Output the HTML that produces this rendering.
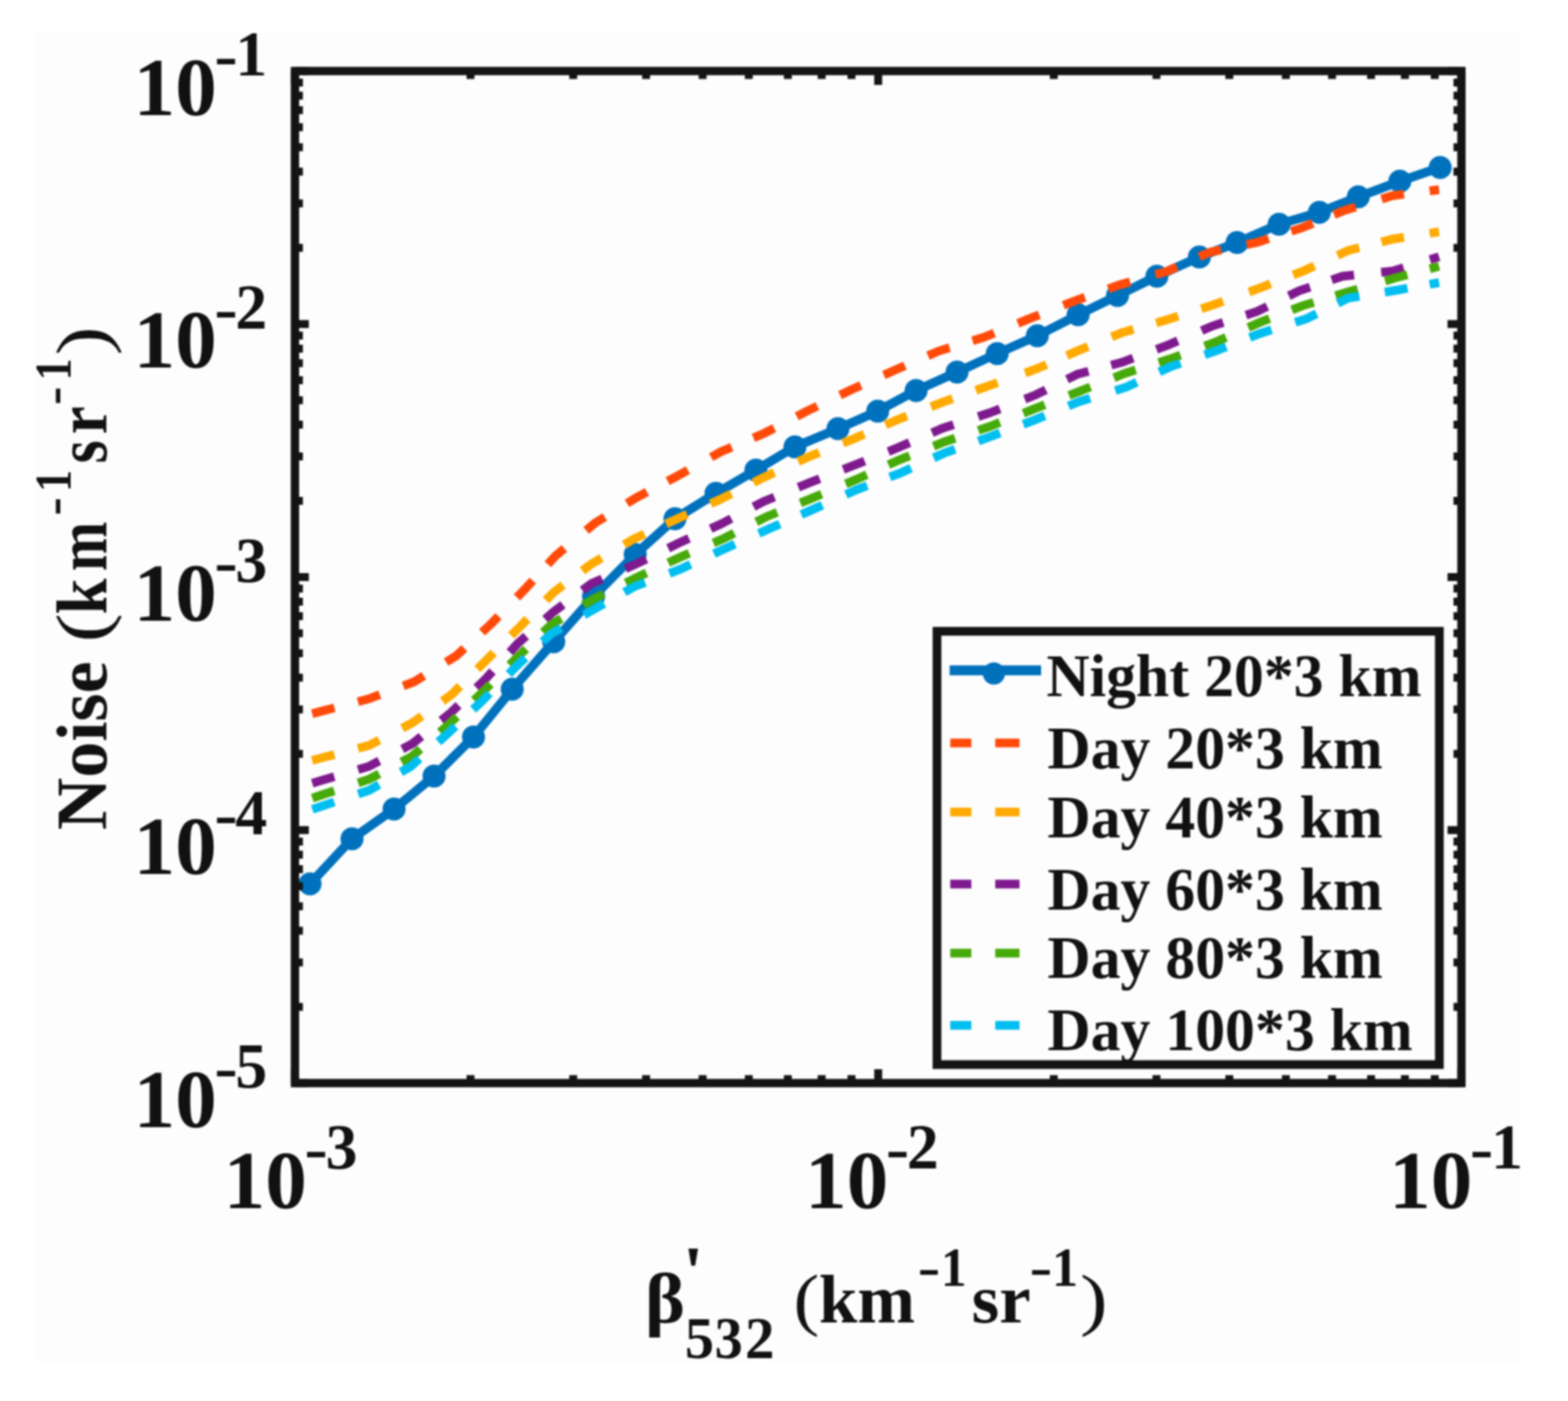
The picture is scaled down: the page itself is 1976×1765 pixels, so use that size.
<!DOCTYPE html>
<html><head><meta charset="utf-8"><title>Noise vs beta</title>
<style>html,body{margin:0;padding:0;background:#fff;overflow:hidden}svg{display:block;filter:blur(1px)}</style>
</head><body>
<svg width="1976" height="1765" viewBox="0 0 1976 1765"><rect x="0" y="0" width="1976" height="1765" fill="#ffffff"/>
<rect x="43" y="41" width="1874" height="1676" fill="#fdfdfd"/>
<g>
<path d="M390.7,1113.5 L443.6,1056.7 L496.6,1019.3 L547.0,977.8 L596.7,928.4 L645.5,868.3 L697.8,808.6 L748.0,751.5 L800.5,698.4 L850.6,653.5 L902.3,621.5 L952.6,592.2 L1001.8,562.9 L1056.0,540.1 L1106.1,517.9 L1154.5,491.9 L1206.1,468.7 L1256.7,445.4 L1307.2,423.0 L1358.7,396.6 L1408.3,372.3 L1457.9,348.0 L1511.5,323.7 L1559.0,305.6 L1611.9,282.6 L1662.7,267.4 L1711.7,248.1 L1764.1,228.3 L1814.9,210.9" fill="none" stroke="#0072BD" stroke-width="11.5" stroke-linejoin="round"/>
<circle cx="390.7" cy="1113.5" r="14.5" fill="#0072BD"/>
<circle cx="443.6" cy="1056.7" r="14.5" fill="#0072BD"/>
<circle cx="496.6" cy="1019.3" r="14.5" fill="#0072BD"/>
<circle cx="547.0" cy="977.8" r="14.5" fill="#0072BD"/>
<circle cx="596.7" cy="928.4" r="14.5" fill="#0072BD"/>
<circle cx="645.5" cy="868.3" r="14.5" fill="#0072BD"/>
<circle cx="697.8" cy="808.6" r="14.5" fill="#0072BD"/>
<circle cx="748.0" cy="751.5" r="14.5" fill="#0072BD"/>
<circle cx="800.5" cy="698.4" r="14.5" fill="#0072BD"/>
<circle cx="850.6" cy="653.5" r="14.5" fill="#0072BD"/>
<circle cx="902.3" cy="621.5" r="14.5" fill="#0072BD"/>
<circle cx="952.6" cy="592.2" r="14.5" fill="#0072BD"/>
<circle cx="1001.8" cy="562.9" r="14.5" fill="#0072BD"/>
<circle cx="1056.0" cy="540.1" r="14.5" fill="#0072BD"/>
<circle cx="1106.1" cy="517.9" r="14.5" fill="#0072BD"/>
<circle cx="1154.5" cy="491.9" r="14.5" fill="#0072BD"/>
<circle cx="1206.1" cy="468.7" r="14.5" fill="#0072BD"/>
<circle cx="1256.7" cy="445.4" r="14.5" fill="#0072BD"/>
<circle cx="1307.2" cy="423.0" r="14.5" fill="#0072BD"/>
<circle cx="1358.7" cy="396.6" r="14.5" fill="#0072BD"/>
<circle cx="1408.3" cy="372.3" r="14.5" fill="#0072BD"/>
<circle cx="1457.9" cy="348.0" r="14.5" fill="#0072BD"/>
<circle cx="1511.5" cy="323.7" r="14.5" fill="#0072BD"/>
<circle cx="1559.0" cy="305.6" r="14.5" fill="#0072BD"/>
<circle cx="1611.9" cy="282.6" r="14.5" fill="#0072BD"/>
<circle cx="1662.7" cy="267.4" r="14.5" fill="#0072BD"/>
<circle cx="1711.7" cy="248.1" r="14.5" fill="#0072BD"/>
<circle cx="1764.1" cy="228.3" r="14.5" fill="#0072BD"/>
<circle cx="1814.9" cy="210.9" r="14.5" fill="#0072BD"/>
<path d="M391.0,899.7 L407.4,895.4 L465.1,880.3 L521.8,859.0 L574.5,826.5 L618.1,786.7 L661.6,742.2 L700.1,700.2 L749.8,658.9 L802.5,626.6 L854.2,599.3 L908.8,569.0 L962.8,546.0 L1017.0,517.9 L1071.7,491.5 L1127.1,466.6 L1182.8,442.3 L1239.5,425.1 L1296.2,401.9 L1353.6,379.4 L1410.3,359.1 L1470.0,342.0 L1524.7,317.7 L1585.1,305.1 L1641.1,286.9 L1694.6,264.9 L1755.0,246.5 L1813.5,239.0" fill="none" stroke="#FF4A0A" stroke-width="11" stroke-dasharray="0.00 2.45 29.00 30.64 29.00 31.57 29.00 32.92 29.00 30.03 29.00 33.23 29.00 27.98 29.00 35.62 29.00 32.81 29.00 29.47 29.00 33.44 29.00 29.69 29.00 32.05 29.00 31.74 29.00 31.74 29.00 31.77 29.00 30.25 29.00 32.26 29.00 32.65 29.00 31.22 29.00 33.10 29.00 30.85 29.00 32.70 29.00 29.88 29.00 28.85 29.00 34.14 29.00 32.48 40.00" stroke-linejoin="miter"/>
<path d="M391.0,958.6 L407.4,954.3 L465.1,939.1 L519.8,910.6 L569.4,874.7 L611.9,832.6 L654.5,790.3 L698.1,745.8 L745.6,710.3 L799.0,678.8 L852.6,653.9 L908.8,628.6 L962.5,601.4 L1019.0,575.5 L1075.7,552.8 L1129.3,529.5 L1186.8,507.1 L1243.5,486.9 L1305.5,465.0 L1357.7,442.1 L1414.4,418.9 L1471.0,402.7 L1527.7,384.5 L1587.7,362.8 L1643.2,341.1 L1698.8,315.6 L1755.0,301.2 L1813.5,292.0" fill="none" stroke="#FFAA00" stroke-width="11" stroke-dasharray="0.00 2.46 29.00 30.67 29.00 32.68 29.00 32.23 29.00 30.82 29.00 31.03 29.00 33.30 29.00 30.30 29.00 33.00 29.00 30.10 29.00 32.63 29.00 31.20 29.00 33.15 29.00 32.08 29.00 29.45 29.00 32.71 29.00 31.19 29.00 36.75 29.00 28.00 29.00 32.26 29.00 29.87 29.00 30.55 29.00 34.80 29.00 30.59 29.00 32.17 29.00 29.02 29.00 32.72 40.00" stroke-linejoin="miter"/>
<path d="M391.0,987.5 L407.4,982.6 L465.1,965.4 L519.8,936.9 L567.4,898.5 L610.9,856.5 L652.2,811.0 L697.9,770.5 L745.6,735.1 L801.5,710.6 L855.1,684.3 L908.8,660.0 L962.5,631.7 L1019.5,608.4 L1076.2,586.2 L1132.9,563.4 L1187.9,539.5 L1246.6,520.3 L1305.0,497.5 L1357.7,471.5 L1414.4,456.3 L1471.0,435.1 L1527.7,410.8 L1584.0,392.5 L1637.2,366.3 L1692.0,348.0 L1755.0,341.4 L1813.5,323.5" fill="none" stroke="#7E1A8E" stroke-width="11" stroke-dasharray="0.00 2.61 29.00 31.21 29.00 32.68 29.00 32.16 29.00 31.47 29.00 32.45 29.00 32.06 29.00 30.40 29.00 32.03 29.00 30.70 29.00 29.94 29.00 31.70 29.00 32.58 29.00 31.89 29.00 32.11 29.00 30.97 29.00 32.76 29.00 33.69 29.00 29.76 29.00 29.70 29.00 31.44 29.00 32.69 29.00 30.20 29.00 30.30 29.00 28.77 29.00 34.34 29.00 34.68 40.00" stroke-linejoin="miter"/>
<path d="M391.0,1006.3 L407.4,1000.8 L465.1,981.6 L518.8,953.2 L565.3,912.8 L607.9,872.2 L652.4,827.5 L694.9,786.7 L747.6,754.8 L801.6,728.0 L855.3,702.7 L912.4,678.2 L966.0,650.9 L1022.1,628.2 L1079.2,603.9 L1132.9,579.6 L1189.9,556.7 L1246.6,537.5 L1303.2,515.2 L1360.7,492.8 L1417.4,470.5 L1474.1,452.3 L1531.8,431.0 L1586.4,406.7 L1641.6,385.1 L1697.0,368.3 L1759.5,349.8 L1813.5,335.5" fill="none" stroke="#46AA0A" stroke-width="11" stroke-dasharray="0.00 2.78 29.00 31.81 29.00 31.75 29.00 32.60 29.00 29.85 29.00 34.07 29.00 29.91 29.00 32.60 29.00 31.28 29.00 30.36 29.00 33.13 29.00 31.15 29.00 31.52 29.00 33.06 29.00 29.94 29.00 32.43 29.00 30.86 29.00 31.83 29.00 32.71 29.00 31.93 29.00 30.55 29.00 32.51 29.00 30.76 29.00 30.28 29.00 28.89 29.00 36.18 29.00 29.36 40.00" stroke-linejoin="miter"/>
<path d="M391.0,1020.5 L407.4,1015.0 L465.1,995.7 L517.8,965.4 L563.3,924.9 L606.8,883.8 L651.4,838.7 L694.5,798.4 L748.6,767.5 L799.5,738.9 L857.2,717.2 L912.9,691.4 L969.5,666.1 L1023.1,642.4 L1079.3,617.0 L1134.9,595.8 L1189.9,570.9 L1246.6,550.6 L1303.2,529.4 L1360.0,506.0 L1419.4,487.7 L1474.1,462.4 L1531.8,442.1 L1588.5,419.9 L1646.2,401.7 L1698.8,375.6 L1759.5,365.7 L1813.5,356.0" fill="none" stroke="#00BEF0" stroke-width="11" stroke-dasharray="0.00 2.79 29.00 31.84 29.00 31.79 29.00 31.91 29.00 30.85 29.00 34.43 29.00 30.01 29.00 33.30 29.00 29.38 29.00 32.65 29.00 32.39 29.00 33.00 29.00 29.61 29.00 32.67 29.00 30.50 29.00 31.37 29.00 31.22 29.00 31.44 29.00 32.43 29.00 33.16 29.00 31.27 29.00 32.17 29.00 31.89 29.00 31.50 29.00 29.72 29.00 32.50 29.00 28.36 40.00" stroke-linejoin="miter"/>
</g>
<rect x="371.7" y="89.5" width="1470.0" height="1275.0" fill="none" stroke="#141414" stroke-width="10.5"/>
<path d="M371.70,1364.5 V1347.00 M371.70,89.5 V107.00 M592.96,1364.5 V1354.50 M592.96,89.5 V99.50 M722.38,1364.5 V1354.50 M722.38,89.5 V99.50 M814.21,1364.5 V1354.50 M814.21,89.5 V99.50 M885.44,1364.5 V1354.50 M885.44,89.5 V99.50 M943.64,1364.5 V1354.50 M943.64,89.5 V99.50 M992.85,1364.5 V1354.50 M992.85,89.5 V99.50 M1035.47,1364.5 V1354.50 M1035.47,89.5 V99.50 M1073.07,1364.5 V1354.50 M1073.07,89.5 V99.50 M1106.70,1364.5 V1347.00 M1106.70,89.5 V107.00 M1327.96,1364.5 V1354.50 M1327.96,89.5 V99.50 M1457.38,1364.5 V1354.50 M1457.38,89.5 V99.50 M1549.21,1364.5 V1354.50 M1549.21,89.5 V99.50 M1620.44,1364.5 V1354.50 M1620.44,89.5 V99.50 M1678.64,1364.5 V1354.50 M1678.64,89.5 V99.50 M1727.85,1364.5 V1354.50 M1727.85,89.5 V99.50 M1770.47,1364.5 V1354.50 M1770.47,89.5 V99.50 M1808.07,1364.5 V1354.50 M1808.07,89.5 V99.50 M1841.70,1364.5 V1347.00 M1841.70,89.5 V107.00 M371.7,1364.50 H389.20 M1841.7,1364.50 H1824.20 M371.7,1268.55 H381.70 M1841.7,1268.55 H1831.70 M371.7,1212.42 H381.70 M1841.7,1212.42 H1831.70 M371.7,1172.59 H381.70 M1841.7,1172.59 H1831.70 M371.7,1141.70 H381.70 M1841.7,1141.70 H1831.70 M371.7,1116.46 H381.70 M1841.7,1116.46 H1831.70 M371.7,1095.12 H381.70 M1841.7,1095.12 H1831.70 M371.7,1076.64 H381.70 M1841.7,1076.64 H1831.70 M371.7,1060.34 H381.70 M1841.7,1060.34 H1831.70 M371.7,1045.75 H389.20 M1841.7,1045.75 H1824.20 M371.7,949.80 H381.70 M1841.7,949.80 H1831.70 M371.7,893.67 H381.70 M1841.7,893.67 H1831.70 M371.7,853.84 H381.70 M1841.7,853.84 H1831.70 M371.7,822.95 H381.70 M1841.7,822.95 H1831.70 M371.7,797.71 H381.70 M1841.7,797.71 H1831.70 M371.7,776.37 H381.70 M1841.7,776.37 H1831.70 M371.7,757.89 H381.70 M1841.7,757.89 H1831.70 M371.7,741.59 H381.70 M1841.7,741.59 H1831.70 M371.7,727.00 H389.20 M1841.7,727.00 H1824.20 M371.7,631.05 H381.70 M1841.7,631.05 H1831.70 M371.7,574.92 H381.70 M1841.7,574.92 H1831.70 M371.7,535.09 H381.70 M1841.7,535.09 H1831.70 M371.7,504.20 H381.70 M1841.7,504.20 H1831.70 M371.7,478.96 H381.70 M1841.7,478.96 H1831.70 M371.7,457.62 H381.70 M1841.7,457.62 H1831.70 M371.7,439.14 H381.70 M1841.7,439.14 H1831.70 M371.7,422.84 H381.70 M1841.7,422.84 H1831.70 M371.7,408.25 H389.20 M1841.7,408.25 H1824.20 M371.7,312.30 H381.70 M1841.7,312.30 H1831.70 M371.7,256.17 H381.70 M1841.7,256.17 H1831.70 M371.7,216.34 H381.70 M1841.7,216.34 H1831.70 M371.7,185.45 H381.70 M1841.7,185.45 H1831.70 M371.7,160.21 H381.70 M1841.7,160.21 H1831.70 M371.7,138.87 H381.70 M1841.7,138.87 H1831.70 M371.7,120.39 H381.70 M1841.7,120.39 H1831.70 M371.7,104.09 H381.70 M1841.7,104.09 H1831.70 M371.7,89.50 H389.20 M1841.7,89.50 H1824.20" stroke="#141414" stroke-width="10" fill="none"/>
<g font-family="'Liberation Serif', 'Times New Roman', serif" fill="#111">
<text transform="translate(168.19,144.50) scale(1.0195,1)" font-size="103.0" font-weight="bold">10</text><text transform="translate(270.19,97.20) scale(1.0903,1)" font-size="80.5" font-weight="bold">-</text><text x="296.60" y="95.20" font-size="80.5" font-weight="bold">1</text>
<text transform="translate(168.19,463.25) scale(1.0195,1)" font-size="103.0" font-weight="bold">10</text><text transform="translate(270.19,415.95) scale(1.0903,1)" font-size="80.5" font-weight="bold">-</text><text x="296.60" y="413.95" font-size="80.5" font-weight="bold">2</text>
<text transform="translate(168.19,782.00) scale(1.0195,1)" font-size="103.0" font-weight="bold">10</text><text transform="translate(270.19,734.70) scale(1.0903,1)" font-size="80.5" font-weight="bold">-</text><text x="296.60" y="732.70" font-size="80.5" font-weight="bold">3</text>
<text transform="translate(168.19,1100.75) scale(1.0195,1)" font-size="103.0" font-weight="bold">10</text><text transform="translate(270.19,1053.45) scale(1.0903,1)" font-size="80.5" font-weight="bold">-</text><text x="296.60" y="1051.45" font-size="80.5" font-weight="bold">4</text>
<text transform="translate(168.19,1419.50) scale(1.0195,1)" font-size="103.0" font-weight="bold">10</text><text transform="translate(270.19,1372.20) scale(1.0903,1)" font-size="80.5" font-weight="bold">-</text><text x="296.60" y="1370.20" font-size="80.5" font-weight="bold">5</text>
<text transform="translate(281.79,1521.50) scale(1.0195,1)" font-size="103.0" font-weight="bold">10</text><text transform="translate(383.79,1474.20) scale(1.0903,1)" font-size="80.5" font-weight="bold">-</text><text x="410.20" y="1472.20" font-size="80.5" font-weight="bold">3</text>
<text transform="translate(1014.39,1521.50) scale(1.0195,1)" font-size="103.0" font-weight="bold">10</text><text transform="translate(1116.39,1474.20) scale(1.0903,1)" font-size="80.5" font-weight="bold">-</text><text x="1142.80" y="1472.20" font-size="80.5" font-weight="bold">2</text>
<text transform="translate(1750.49,1521.50) scale(1.0195,1)" font-size="103.0" font-weight="bold">10</text><text transform="translate(1852.49,1474.20) scale(1.0903,1)" font-size="80.5" font-weight="bold">-</text><text x="1878.90" y="1472.20" font-size="80.5" font-weight="bold">1</text>
</g>
<g font-family="'Liberation Serif', 'Times New Roman', serif" fill="#111"><text transform="translate(812.76,1666.00) scale(1.0844,1)" font-size="88.5" font-weight="bold">β</text><text transform="translate(860.28,1632.80) scale(1.0440,1)" font-size="92.0" font-weight="bold">'</text><text transform="translate(863.05,1710.50) scale(0.9959,1)" font-size="74.0" font-weight="bold">5</text><text transform="translate(900.53,1710.50) scale(0.9593,1)" font-size="74.0" font-weight="bold">3</text><text transform="translate(938.86,1710.50) scale(1.0093,1)" font-size="74.0" font-weight="bold">2</text><text transform="translate(999.92,1666.00) scale(1.1318,1)" font-size="86.0" font-weight="normal">(</text><text transform="translate(1032.03,1666.00) scale(1.0133,1)" font-size="86.0" font-weight="bold">km</text><text transform="translate(1156.57,1619.50) scale(1.2209,1)" font-size="70.0" font-weight="bold">-</text><text transform="translate(1185.82,1619.50) scale(0.9235,1)" font-size="70.0" font-weight="bold">1</text><text transform="translate(1224.50,1666.00) scale(1.0389,1)" font-size="86.0" font-weight="bold">sr</text><text transform="translate(1297.46,1619.50) scale(1.2264,1)" font-size="70.0" font-weight="bold">-</text><text transform="translate(1325.74,1619.50) scale(0.9390,1)" font-size="70.0" font-weight="bold">1</text><text transform="translate(1361.04,1666.00) scale(1.2133,1)" font-size="86.0" font-weight="normal">)</text></g>
<g font-family="'Liberation Serif', 'Times New Roman', serif" fill="#111" transform="translate(134.3,1045.6) rotate(-90)"><text transform="translate(-0.04,0.00) scale(1.0018,1)" font-size="91.0" font-weight="bold">Noise</text><text transform="translate(235.99,0.00) scale(1.2280,1)" font-size="91.0" font-weight="normal">(</text><text transform="translate(271.67,0.00) scale(0.8940,1)" font-size="91.0" font-weight="bold">k</text><text transform="translate(326.09,0.00) scale(0.8217,1)" font-size="91.0" font-weight="bold">m</text><text transform="translate(396.06,-45.50) scale(1.0743,1)" font-size="64.5" font-weight="bold">-</text><text transform="translate(425.76,-45.50) scale(0.8591,1)" font-size="64.5" font-weight="bold">1</text><text transform="translate(461.95,0.00) scale(0.8181,1)" font-size="91.0" font-weight="bold">s</text><text transform="translate(498.45,0.00) scale(0.8780,1)" font-size="91.0" font-weight="bold">r</text><text transform="translate(535.35,-45.50) scale(1.0803,1)" font-size="64.5" font-weight="bold">-</text><text transform="translate(566.36,-45.50) scale(0.8591,1)" font-size="64.5" font-weight="bold">1</text><text transform="translate(597.85,0.00) scale(1.2108,1)" font-size="91.0" font-weight="normal">)</text></g>
<rect x="1180.8" y="795.3" width="633.1" height="545.9" fill="none" stroke="#141414" stroke-width="11"/>
<g font-family="'Liberation Serif', 'Times New Roman', serif" fill="#111"><line x1="1196.7" y1="844.5" x2="1312" y2="844.5" stroke="#0072BD" stroke-width="12.5"/><circle cx="1252.5" cy="848.5" r="14" fill="#0072BD"/><text x="1318.67" y="876.60" font-size="75.3" font-weight="bold">Night 20*3 km</text><path d="M1197.5,935.9 H1224.1 M1254.2,935.9 H1284.8" stroke="#FF4A0A" stroke-width="11"/><text x="1320.08" y="968.40" font-size="75.3" font-weight="bold">Day 20*3 km</text><path d="M1197.5,1023.0 H1224.1 M1254.2,1023.0 H1284.8" stroke="#FFAA00" stroke-width="11"/><text x="1320.08" y="1055.20" font-size="75.3" font-weight="bold">Day 40*3 km</text><path d="M1197.5,1113.7 H1224.1 M1254.2,1113.7 H1284.8" stroke="#7E1A8E" stroke-width="11"/><text x="1320.08" y="1145.50" font-size="75.3" font-weight="bold">Day 60*3 km</text><path d="M1197.5,1200.8 H1224.1 M1254.2,1200.8 H1284.8" stroke="#46AA0A" stroke-width="11"/><text x="1320.08" y="1232.30" font-size="75.3" font-weight="bold">Day 80*3 km</text><path d="M1197.5,1291.7 H1224.1 M1254.2,1291.7 H1284.8" stroke="#00BEF0" stroke-width="11"/><text x="1320.08" y="1322.60" font-size="75.3" font-weight="bold">Day 100*3 km</text></g></svg>
</body></html>
